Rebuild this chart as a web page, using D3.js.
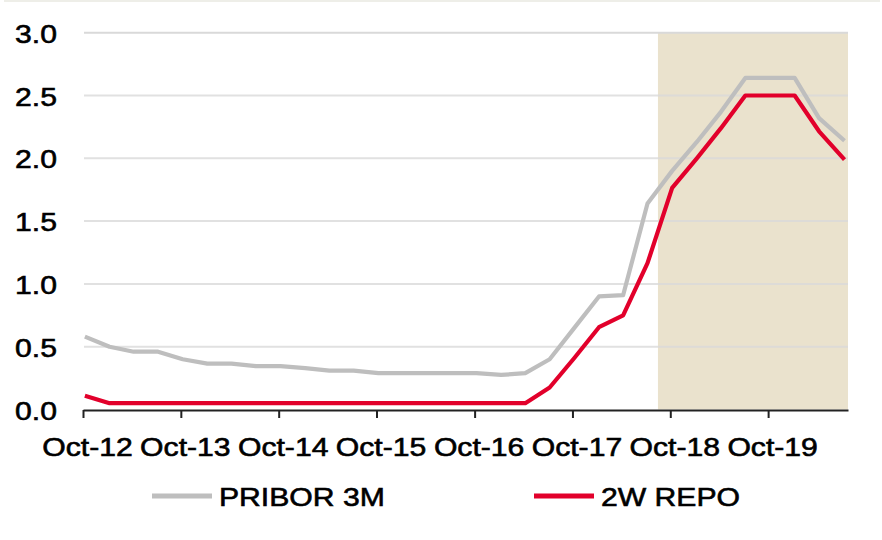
<!DOCTYPE html>
<html>
<head>
<meta charset="utf-8">
<script src="https://cdn.jsdelivr.net/npm/d3@7"></script>
<style>
  html, body { margin: 0; padding: 0; background: #fff; }
  svg { display: block; }
  text { font-family: Arial, "Liberation Sans", sans-serif; fill: #000; }
</style>
</head>
<body>
<svg id="chart" width="882" height="540"></svg>
<script>
// ---------------- data ----------------
const quarters = [
  "2012-10-08",
  "2013-01-08","2013-04-08","2013-07-08","2013-10-08",
  "2014-01-08","2014-04-08","2014-07-08","2014-10-08",
  "2015-01-08","2015-04-08","2015-07-08","2015-10-08",
  "2016-01-08","2016-04-08","2016-07-08","2016-10-08",
  "2017-01-08","2017-04-08","2017-07-08","2017-10-08",
  "2018-01-08","2018-04-08","2018-07-08","2018-10-08",
  "2019-01-08","2019-04-08","2019-07-08","2019-10-08",
  "2020-01-08","2020-04-08","2020-07-12"
];
const pribor3m = [0.58,0.50,0.46,0.46,0.40,0.365,0.365,0.345,0.345,0.33,0.31,0.31,
                  0.29,0.29,0.29,0.29,0.29,0.275,0.29,0.40,0.65,0.90,0.91,1.64,
                  1.90,2.13,2.37,2.64,2.64,2.64,2.32,2.14];
const repo2w   = [0.11,0.05,0.05,0.05,0.05,0.05,0.05,0.05,0.05,0.05,0.05,0.05,
                  0.05,0.05,0.05,0.05,0.05,0.05,0.05,0.175,0.41,0.655,0.75,1.165,
                  1.765,2.00,2.24,2.50,2.50,2.50,2.215,1.99];
const xTickDates = ["2012-10-01","2013-10-01","2014-10-01","2015-10-01",
                    "2016-10-01","2017-10-01","2018-10-01","2019-10-01"];
const yTicks = [0, 0.5, 1.0, 1.5, 2.0, 2.5, 3.0];
const axisStart = "2012-10-01";
const axisEnd = "2020-07-25";
const forecastStart = "2018-08-16";
const seriesNames = ["PRIBOR 3M", "2W REPO"];
const seriesColors = ["#BEBEBE", "#E2002B"];

// ---------------- layout ----------------
const parse = d3.timeParse("%Y-%m-%d");
const svg = d3.select("#chart");
const X0 = 83, X1 = 848, Y0 = 409.5, Y3 = 32.7;
const stretch = 1.16;
const FONT = "Arial, 'Liberation Sans', sans-serif";

const x = d3.scaleTime().domain([parse(axisStart), parse(axisEnd)]).range([X0, X1]);
const y = d3.scaleLinear().domain([0, 3]).range([Y0, Y3]);

// faint top border
svg.append("line").attr("x1", 4).attr("x2", 880).attr("y1", 1).attr("y2", 1)
   .attr("stroke", "#E9E9E1").attr("stroke-width", 1.5);

// forecast shading
svg.append("rect")
   .attr("x", x(parse(forecastStart)))
   .attr("y", y(3))
   .attr("width", x(parse(axisEnd)) - x(parse(forecastStart)))
   .attr("height", y(0) - y(3))
   .attr("fill", "#EAE2CD");

// gridlines
svg.append("g").selectAll("line").data(yTicks.filter(d => d > 0)).join("line")
   .attr("x1", X0 + 1).attr("x2", X1)
   .attr("y1", d => y(d)).attr("y2", d => y(d))
   .attr("stroke", "#D9D9D9").attr("stroke-width", 2)
   .attr("stroke-opacity", d => d === 3 ? 1 : 0.8);

// y axis (labels only)
const yAxis = svg.append("g").attr("transform", `translate(${X0},0)`)
  .call(d3.axisLeft(y).tickValues(yTicks).tickFormat(d3.format(".1f")).tickSize(0).tickPadding(0));
yAxis.select(".domain").remove();
yAxis.selectAll("text")
  .attr("x", 0).attr("dy", "0.37em")
  .attr("transform", `translate(-26,0) scale(${stretch},1)`)
  .style("font-size", "26px").style("font-family", FONT)
  .attr("fill", "#000").attr("stroke", "#000").attr("stroke-width", 0.6);

// lines
const pts = (vals) => quarters.map((q, i) => ({ d: parse(q), v: vals[i] }));
const line = d3.line().x(p => x(p.d)).y(p => y(p.v));
[pribor3m, repo2w].forEach((vals, i) => {
  svg.append("path").datum(pts(vals))
     .attr("fill", "none").attr("stroke", seriesColors[i])
     .attr("stroke-width", 4.2).attr("stroke-linejoin", "round").attr("stroke-linecap", "butt")
     .attr("d", line);
});

// x axis
const xAxis = svg.append("g").attr("transform", `translate(0,${Y0 + 0.5})`)
  .call(d3.axisBottom(x).tickValues(xTickDates.map(parse))
        .tickFormat(d3.timeFormat("Oct-%y")).tickSizeInner(8).tickSizeOuter(0).tickPadding(20));
xAxis.select(".domain").attr("stroke", "#222").attr("stroke-width", 2);
xAxis.selectAll(".tick line").attr("stroke", "#222").attr("stroke-width", 2);
xAxis.selectAll("text")
  .attr("transform", `translate(4,0) scale(${stretch},1)`)
  .style("font-size", "26px").style("font-family", FONT)
  .attr("fill", "#000").attr("stroke", "#000").attr("stroke-width", 0.6);

// legend
const legendX = [152, 534];
const leg = svg.append("g").selectAll("g").data(seriesNames).join("g")
  .attr("transform", (d, i) => `translate(${legendX[i]},496)`);
leg.append("line").attr("x1", 0).attr("x2", 60).attr("y1", 0).attr("y2", 0)
   .attr("stroke", (d, i) => seriesColors[i]).attr("stroke-width", 5);
leg.append("text")
   .attr("transform", `translate(67,9.5) scale(${stretch},1)`)
   .style("font-size", "26px")
   .attr("stroke", "#000").attr("stroke-width", 0.6)
   .text(d => d);
</script>
</body>
</html>
